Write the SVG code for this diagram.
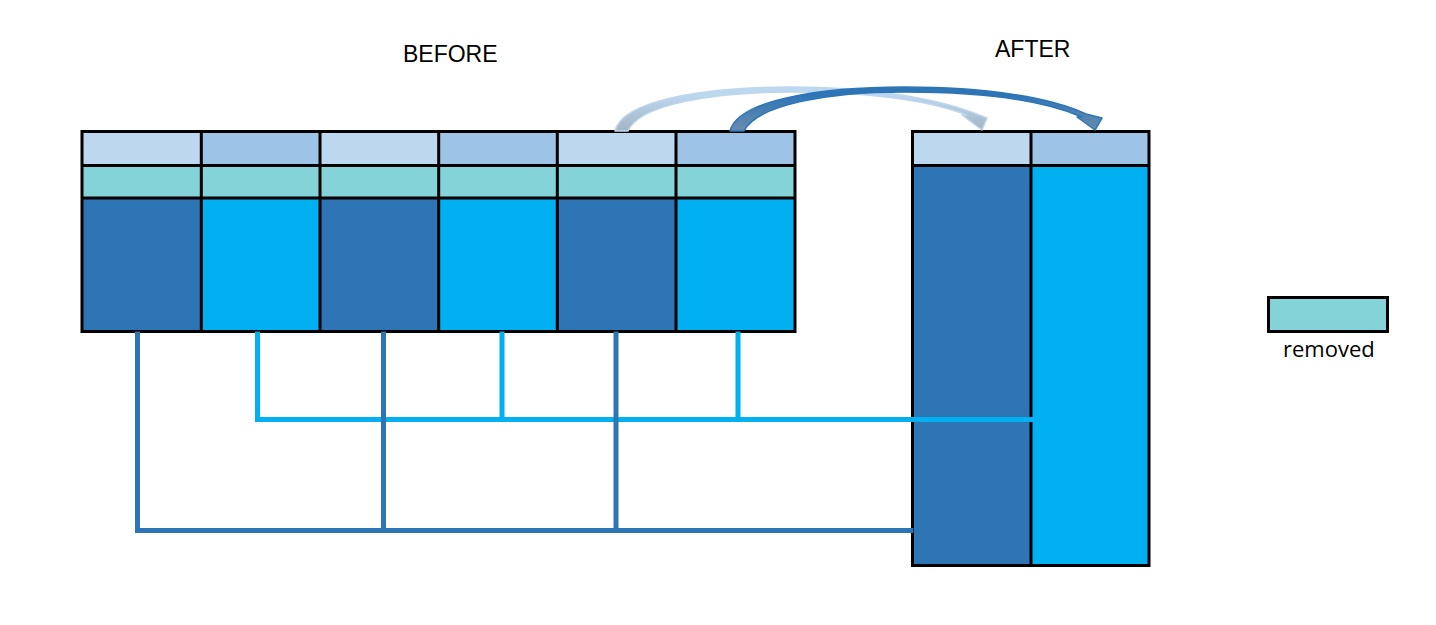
<svg xmlns="http://www.w3.org/2000/svg" width="1436" height="625" viewBox="0 0 1436 625">
<style>
.h1{fill:#BDD7EE}.h2{fill:#9DC3E6}.tl{fill:#84D3D8}.d{fill:#2E75B6}.l{fill:#00B0F0}
.grid{stroke:#000;stroke-width:3;fill:none}
.cd{stroke:#2E75B6;stroke-width:5;fill:none;stroke-linecap:square}
.cl{stroke:#00B0F0;stroke-width:5;fill:none;stroke-linecap:square}
.lbl{font-family:"Liberation Sans",Arial,sans-serif;font-size:23px;fill:#000}
.leg{font-family:"Open Sans",sans-serif;font-size:22px;fill:#000}
</style>
<defs>
<linearGradient id="gd" gradientUnits="userSpaceOnUse" x1="0" y1="131" x2="0" y2="95">
<stop offset="0" stop-color="#6A8DB0"/><stop offset="1" stop-color="#2E75B6"/>
</linearGradient>
<linearGradient id="gl" gradientUnits="userSpaceOnUse" x1="0" y1="131" x2="0" y2="95">
<stop offset="0" stop-color="#A4B4C4"/><stop offset="1" stop-color="#BDD7EE"/>
</linearGradient>
</defs>
<rect width="1436" height="625" fill="#fff"/>
<text class="lbl" x="403" y="62">BEFORE</text>
<text class="lbl" x="995" y="57">AFTER</text>

<g id="before">
<rect class="h1" x="82" y="131.5" width="119.3" height="34"/>
<rect class="h2" x="201.3" y="131.5" width="118.7" height="34"/>
<rect class="h1" x="320" y="131.5" width="118.7" height="34"/>
<rect class="h2" x="438.7" y="131.5" width="118.6" height="34"/>
<rect class="h1" x="557.3" y="131.5" width="118.7" height="34"/>
<rect class="h2" x="676" y="131.5" width="119" height="34"/>
<rect class="tl" x="82" y="165.5" width="713" height="32.5"/>
<rect class="d" x="82" y="198" width="119.3" height="133.5"/>
<rect class="l" x="201.3" y="198" width="118.7" height="133.5"/>
<rect class="d" x="320" y="198" width="118.7" height="133.5"/>
<rect class="l" x="438.7" y="198" width="118.6" height="133.5"/>
<rect class="d" x="557.3" y="198" width="118.7" height="133.5"/>
<rect class="l" x="676" y="198" width="119" height="133.5"/>
<path class="grid" d="M82,131.5H795V331.5H82Z M82,165.5H795 M82,198H795 M201.3,131.5V331.5 M320,131.5V331.5 M438.7,131.5V331.5 M557.3,131.5V331.5 M676,131.5V331.5"/>
</g>

<g id="after">
<rect class="h1" x="912.5" y="131.5" width="118.5" height="34"/>
<rect class="h2" x="1031" y="131.5" width="118" height="34"/>
<rect class="d" x="912.5" y="165.5" width="118.5" height="400"/>
<rect class="l" x="1031" y="165.5" width="118" height="400"/>
<path class="grid" d="M912.5,131.5H1149V565.5H912.5Z M912.5,165.5H1149 M1031,131.5V565.5"/>
</g>

<g id="legend">
<rect class="tl" x="1268.5" y="297.5" width="119" height="34" stroke="#000" stroke-width="3"/>
<text class="leg" x="1283" y="357">removed</text>
</g>

<g id="connectors">
<path class="cl" d="M257.5,334V419.5H1031 M502,334V419.5 M738,334V419.5"/>
<path class="cd" d="M137.5,334V530.5H911 M383.5,334V530.5 M616,334V530.5"/>
<path fill="url(#gl)" stroke="#BDD7EE" stroke-width="1.5" stroke-linejoin="round" d="M615,131 C622,100 705,87 790,87 C870,87 935,98 974,113 L987,118 L982,130 L962,115 L967,115 C930,101 870,92 790,92 C715,92 640,104 628,131 Z"/>
<path fill="url(#gd)" stroke="#2E75B6" stroke-width="1.5" stroke-linejoin="round" d="M730,131 C738,100 820,87 905,87 C985,87 1050,97 1086,114 L1102,118 L1095,130 L1077,117 L1082,117 C1045,101 985,92 905,92 C830,92 758,104 744,131 Z"/>
</g>
</svg>
